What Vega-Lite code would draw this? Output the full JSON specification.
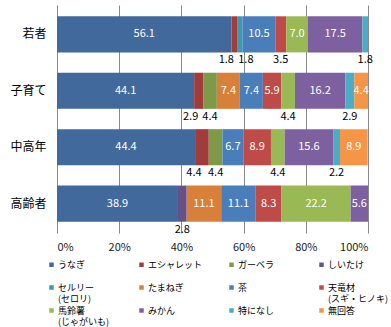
{
  "$schema": "https://vega.github.io/schema/vega-lite/v6.json",
  "width": 311,
  "height": 228,
  "autosize": {"type": "none"},
  "padding": {"left": 57, "top": 5, "right": 23, "bottom": 94},
  "background": "white",
  "config": {
    "view": {"stroke": null},
    "font": "Noto Sans CJK JP",
    "text": {"font": "Noto Sans CJK JP"}
  },
  "data": {
    "values": [
      {"group": "若者", "item": "うなぎ", "value": 56.1},
      {"group": "若者", "item": "エシャレット", "value": 1.8},
      {"group": "若者", "item": "セルリー(セロリ)", "value": 1.8},
      {"group": "若者", "item": "茶", "value": 10.5},
      {"group": "若者", "item": "天竜材(スギ・ヒノキ)", "value": 3.5},
      {"group": "若者", "item": "馬鈴薯(じゃがいも)", "value": 7.0},
      {"group": "若者", "item": "みかん", "value": 17.5},
      {"group": "若者", "item": "特になし", "value": 1.8},
      {"group": "子育て", "item": "うなぎ", "value": 44.1},
      {"group": "子育て", "item": "エシャレット", "value": 2.9},
      {"group": "子育て", "item": "ガーベラ", "value": 4.4},
      {"group": "子育て", "item": "たまねぎ", "value": 7.4},
      {"group": "子育て", "item": "茶", "value": 7.4},
      {"group": "子育て", "item": "天竜材(スギ・ヒノキ)", "value": 5.9},
      {"group": "子育て", "item": "馬鈴薯(じゃがいも)", "value": 4.4},
      {"group": "子育て", "item": "みかん", "value": 16.2},
      {"group": "子育て", "item": "特になし", "value": 2.9},
      {"group": "子育て", "item": "無回答", "value": 4.4},
      {"group": "中高年", "item": "うなぎ", "value": 44.4},
      {"group": "中高年", "item": "エシャレット", "value": 4.4},
      {"group": "中高年", "item": "ガーベラ", "value": 4.4},
      {"group": "中高年", "item": "茶", "value": 6.7},
      {"group": "中高年", "item": "天竜材(スギ・ヒノキ)", "value": 8.9},
      {"group": "中高年", "item": "馬鈴薯(じゃがいも)", "value": 4.4},
      {"group": "中高年", "item": "みかん", "value": 15.6},
      {"group": "中高年", "item": "特になし", "value": 2.2},
      {"group": "中高年", "item": "無回答", "value": 8.9},
      {"group": "高齢者", "item": "うなぎ", "value": 38.9},
      {"group": "高齢者", "item": "しいたけ", "value": 2.8},
      {"group": "高齢者", "item": "たまねぎ", "value": 11.1},
      {"group": "高齢者", "item": "茶", "value": 11.1},
      {"group": "高齢者", "item": "天竜材(スギ・ヒノキ)", "value": 8.3},
      {"group": "高齢者", "item": "馬鈴薯(じゃがいも)", "value": 22.2},
      {"group": "高齢者", "item": "みかん", "value": 5.6}
    ]
  },
  "transform": [
    {"stack": "value", "groupby": ["group"], "as": ["x0", "x1"]},
    {"calculate": "(datum.x0 + datum.x1) / 2", "as": "xmid"}
  ],
  "encoding": {
    "y": {
      "field": "group",
      "type": "nominal",
      "sort": ["若者", "子育て", "中高年", "高齢者"],
      "scale": {"paddingInner": 0.36, "paddingOuter": 0.2},
      "axis": {
        "title": null,
        "domain": false,
        "ticks": false,
        "labelFontSize": 12,
        "labelColor": "#000000",
        "labelPadding": 11
      }
    }
  },
  "layer": [
    {
      "mark": {"type": "bar"},
      "encoding": {
        "x": {
          "field": "x0",
          "type": "quantitative",
          "scale": {"domain": [0, 100], "nice": false, "zero": true},
          "axis": {
            "title": null,
            "values": [0, 20, 40, 60, 80, 100],
            "labelExpr": "datum.value + '%'",
            "grid": true,
            "gridColor": "#8a8a8a",
            "gridWidth": 1,
            "domain": false,
            "ticks": false,
            "labelFontSize": 11,
            "labelColor": "#222222",
            "labelPadding": 8
          }
        },
        "x2": {"field": "x1"},
        "color": {
          "field": "item",
          "type": "nominal",
          "scale": {
            "domain": ["うなぎ", "エシャレット", "ガーベラ", "しいたけ", "セルリー(セロリ)", "たまねぎ", "茶", "天竜材(スギ・ヒノキ)", "馬鈴薯(じゃがいも)", "みかん", "特になし", "無回答"],
            "range": ["#41699b", "#a03d3a", "#7e9a48", "#66508a", "#3b9ab2", "#d8803a", "#4a7ebb", "#be4b48", "#98b954", "#7d60a0", "#4bacc6", "#f69546"]
          },
          "legend": {
            "title": null,
            "orient": "none",
            "legendX": -10,
            "legendY": 255,
            "direction": "horizontal",
            "columns": 4,
            "gridAlign": "all",
            "symbolType": "square",
            "symbolSize": 20,
            "symbolStrokeWidth": 0,
            "labelFontSize": 9,
            "labelColor": "#000000",
            "labelOffset": 2,
            "columnPadding": 18,
            "rowPadding": 2,
            "labelLimit": 200,
            "labelExpr": "indexof(datum.label, '(') >= 0 ? split(replace(datum.label, '(', '\\n('), '\\n') : [datum.label, ' ']"
          }
        }
      }
    },
    {
      "transform": [{"filter": "datum.value >= 5 || datum.item == '無回答'"}],
      "mark": {"type": "text", "color": "#ffffff", "fontSize": 11},
      "encoding": {
        "x": {"field": "xmid", "type": "quantitative"},
        "text": {"field": "value", "type": "quantitative", "format": ".1f"}
      }
    },
    {
      "transform": [{"filter": "datum.value < 5 && datum.item != '無回答'"}],
      "mark": {
        "type": "text",
        "color": "#000000",
        "fontSize": 11,
        "dy": 26,
        "dx": {"expr": "datum.item == 'エシャレット' ? -8 : (datum.item == 'セルリー(セロリ)' ? 6 : 0)"}
      },
      "encoding": {
        "x": {"field": "xmid", "type": "quantitative"},
        "text": {"field": "value", "type": "quantitative", "format": ".1f"}
      }
    }
  ]
}
